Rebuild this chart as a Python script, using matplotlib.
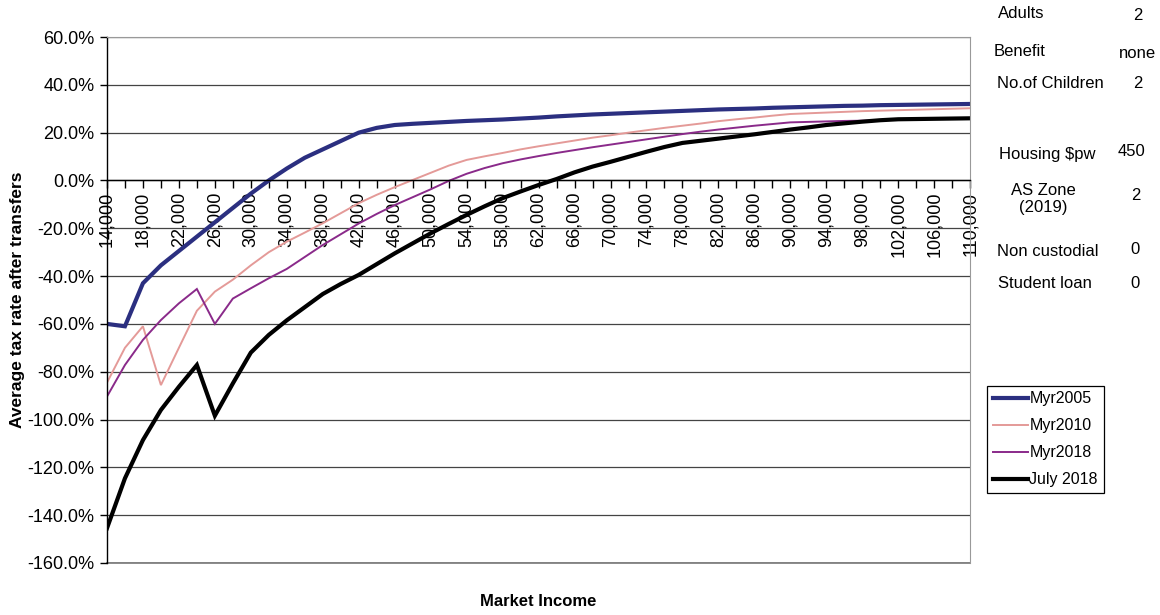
import numpy as np
import matplotlib.pyplot as plt
from matplotlib.ticker import FixedLocator, FuncFormatter

plt.rcParams['font.family'] = ['Liberation Sans', 'DejaVu Sans']

# market income, every $2,000
income = np.arange(14000, 110001, 2000)

# average tax rate after transfers (%)
myr2005 = [-60, -61, -43, -35.5, -29.5, -23.5, -17.5, -11.5, -5.5, 0,
           5, 9.5, 13, 16.5, 20, 22, 23.2, 23.7, 24.1, 24.5,
           24.9, 25.2, 25.5, 25.9, 26.3, 26.8, 27.2, 27.6, 27.9, 28.2,
           28.5, 28.8, 29.1, 29.4, 29.7, 29.9, 30.1, 30.4, 30.6, 30.8,
           31.0, 31.2, 31.3, 31.5, 31.6, 31.7, 31.8, 31.9, 32.0]
myr2010 = [-84.6, -70, -61, -85.6, -70, -54.5, -46.5, -41.5, -35.5, -30,
           -25.6, -21.8, -17.9, -13.7, -9.5, -6, -2.8, 0.2, 3.2, 6.2,
           8.6, 10.1, 11.5, 13, 14.3, 15.5, 16.7, 17.9, 18.9, 20.0,
           21.0, 22.0, 22.9, 23.8, 24.8, 25.6, 26.3, 27.1, 27.8, 28.1,
           28.4, 28.7, 29.0, 29.2, 29.4, 29.6, 29.8, 30.0, 30.2]
myr2018 = [-90.4, -77.2, -66.7, -58.4, -51.4, -45.4, -60, -49.4, -45.1, -40.9,
           -37, -32, -27, -22.5, -18, -14, -10.3, -7, -3.7, -0.2,
           2.8, 5.2, 7.2, 8.8, 10.2, 11.5, 12.7, 13.9, 15.0, 16.1,
           17.2, 18.3, 19.4, 20.4, 21.3, 22.1, 22.9, 23.6, 24.3, 24.5,
           24.7, 24.9, 25.0, 25.2, 25.4, 25.6, 25.8, 25.9, 26.0]
july2018 = [-145.5, -124.6, -108.6, -96, -86.3, -77.2, -98.4, -84.9, -72, -64.6,
            -58.5, -53, -47.5, -43.3, -39.5, -35, -30.5, -26.3, -22.1, -18.2,
            -14.4, -10.8, -7.4, -4.6, -1.9, 0.6, 3.4, 5.8, 7.8, 9.9,
            12, 14, 15.7, 16.6, 17.5, 18.4, 19.3, 20.3, 21.3, 22.2,
            23.2, 23.9, 24.6, 25.2, 25.6, 25.7, 25.8, 25.9, 26.0]

series_names = ['Myr2005', 'Myr2010', 'Myr2018', 'July 2018']
series_colors = ['#2b2f80', '#e49a98', '#8a2a8a', '#000000']
series_widths = [3.0, 1.4, 1.4, 3.0]

# household settings listed on the right
param_labels = ['Adults', 'Benefit', 'No.of Children', 'Housing $pw',
                'AS Zone\n(2019)', 'Non custodial', 'Student loan']
param_values = ['2', 'none', '2', '450', '2', '0', '0']

fig = plt.figure(figsize=(11.6, 6.15), dpi=100)
ax = fig.add_axes([0.0922, 0.0846, 0.7442, 0.8552])

for vals, name, col, lw in zip([myr2005, myr2010, myr2018, july2018],
                               series_names, series_colors, series_widths):
    ax.plot(income, vals, color=col, lw=lw, label=name, solid_joinstyle='miter')

ax.set_xlim(14000, 110000)
ax.set_ylim(-160, 60)

# y axis
ax.set_yticks(np.arange(-160, 61, 20))
ax.yaxis.set_major_formatter(FuncFormatter(lambda v, p: '%.1f%%' % v))
ax.yaxis.grid(True, color='#444444', lw=0.9)
ax.axhline(-160, color='#777777', lw=1.2, clip_on=False, zorder=0)
ax.set_axisbelow(True)
ax.tick_params(axis='y', direction='out', length=5, width=1, labelsize=13, pad=4)

# x axis crosses at zero
ax.spines['bottom'].set_position(('data', 0))
ax.spines['bottom'].set_linewidth(1.0)
ax.spines['left'].set_linewidth(1.0)
for s in ['top', 'right']:
    ax.spines[s].set_color('#999999')
ax.xaxis.set_major_locator(FixedLocator(income[::2]))
ax.xaxis.set_minor_locator(FixedLocator(income[1::2]))
ax.xaxis.set_major_formatter(FuncFormatter(lambda v, p: '{:,}'.format(int(v))))
ax.tick_params(axis='x', which='both', direction='out', length=6, width=1)
ax.tick_params(axis='x', which='major', labelsize=13, labelrotation=90, pad=2)

ax.set_ylabel('Average tax rate after transfers', fontsize=12.5, fontweight='bold', labelpad=2)
fig.text(0.464, 0.022, 'Market Income', ha='center', va='center',
         fontsize=12, fontweight='bold')

leg = fig.legend(loc='upper left', bbox_to_anchor=(0.851, 0.373), fontsize=11.5,
                 frameon=True, fancybox=False, edgecolor='black', framealpha=1,
                 handlelength=2.2, handletextpad=0.1, labelspacing=0.75,
                 borderpad=0.35, borderaxespad=0)
leg.get_frame().set_linewidth(0.9)

# household settings
label_x = [1021, 1020, 1050, 1047, 1043, 1048, 1045]
label_y = [14, 51, 83, 154, 199, 251, 283]
value_x = [1138, 1137, 1138, 1132, 1136, 1135, 1135]
value_y = [16, 54, 83, 152, 196, 249, 283]
for lab, val, lx, ly, vx, vy in zip(param_labels, param_values, label_x, label_y, value_x, value_y):
    fig.text(lx / 1160, 1 - ly / 615, lab, ha='center', va='center', fontsize=12,
             linespacing=1.2)
    fig.text(vx / 1160, 1 - vy / 615, val, ha='center', va='center', fontsize=12)

fig.savefig('out.png', dpi=100)
